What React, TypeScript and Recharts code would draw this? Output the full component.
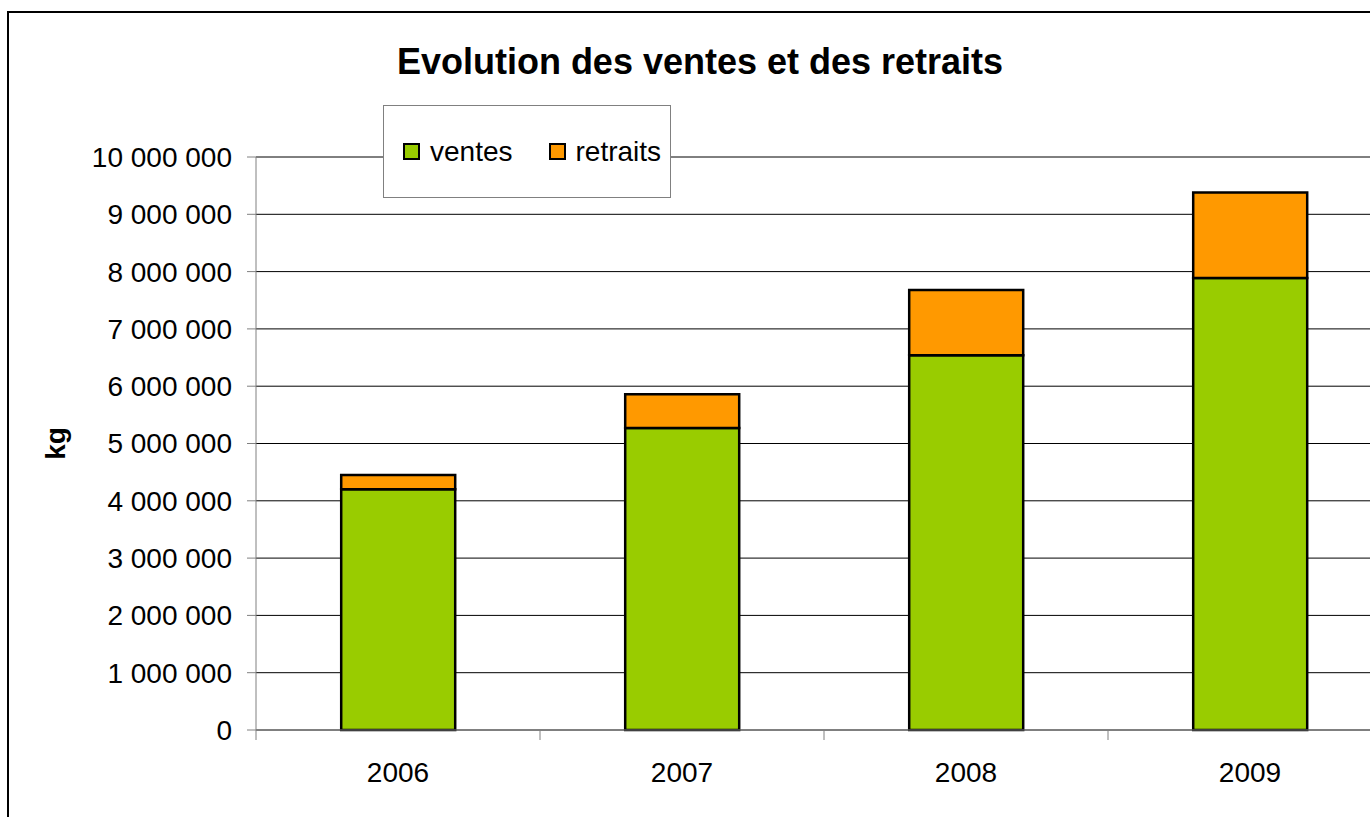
import React from 'react';
import { BarChart, Bar, XAxis, YAxis, CartesianGrid, Legend } from 'recharts';

const years = ['2006', '2007', '2008', '2009'];
const ventes = [4200000, 5270000, 6540000, 7890000];
const retraits = [250000, 590000, 1140000, 1490000];
const yTicks = [0, 1000000, 2000000, 3000000, 4000000, 5000000, 6000000, 7000000, 8000000, 9000000, 10000000];
const seriesOrder = ['ventes', 'retraits'];

const data = years.map((y, i) => ({ year: y, ventes: ventes[i], retraits: retraits[i] }));

const FONT = "'Liberation Sans', Arial, Helvetica, sans-serif";
const CHART_W = 1420;
const CHART_H = 840;
const MARGIN = { top: 157, right: 28, bottom: 0, left: 0 };
const Y_W = 256;
const X_H = 110;
const CAT_W = (CHART_W - MARGIN.right - MARGIN.left - Y_W) / years.length;

const fmt = (v: number) => String(v).replace(/\B(?=(\d{3})+(?!\d))/g, ' ');

const XTick = (props: any) => {
  const { x, y, payload, index } = props;
  const half = CAT_W / 2;
  return (
    <g>
      <line x1={x - half} x2={x - half} y1={y} y2={y + 10} stroke="#808080" strokeWidth={1} />
      {index === years.length - 1 && (
        <line x1={x + half} x2={x + half} y1={y} y2={y + 10} stroke="#808080" strokeWidth={1} />
      )}
      <text x={x} y={y + 52} textAnchor="middle" fontSize={28} fill="#000" fontFamily={FONT}>
        {payload.value}
      </text>
    </g>
  );
};

const LegendBox = (props: any) => {
  const payload = [...(props.payload || [])].sort(
    (a: any, b: any) => seriesOrder.indexOf(a.dataKey) - seriesOrder.indexOf(b.dataKey)
  );
  return (
    <div
      style={{
        boxSizing: 'border-box',
        width: 288,
        height: 93,
        border: '1px solid #808080',
        background: '#fff',
        display: 'flex',
        alignItems: 'center',
        paddingLeft: 19,
        fontFamily: FONT,
        fontSize: 28,
        color: '#000',
      }}
    >
      {payload.map((p: any, i: number) => (
        <div key={i} style={{ display: 'flex', alignItems: 'center', marginRight: 36 }}>
          <span
            style={{
              display: 'inline-block',
              boxSizing: 'border-box',
              width: 17,
              height: 17,
              border: '2px solid #000',
              background: p.color,
              marginRight: 10,
            }}
          />
          <span style={{ lineHeight: '28px' }}>{p.value}</span>
        </div>
      ))}
    </div>
  );
};

export default function App() {
  return (
    <div
      style={{
        position: 'fixed',
        left: 0,
        top: 0,
        width: 1370,
        height: 817,
        overflow: 'hidden',
        background: '#fff',
        fontFamily: FONT,
      }}
    >
      <div
        style={{
          position: 'absolute',
          left: 7,
          top: 11,
          width: 1390,
          height: 840,
          border: '2px solid #000',
          boxSizing: 'border-box',
        }}
      />
      <div
        style={{
          position: 'absolute',
          left: 0,
          top: 44,
          width: 1400,
          textAlign: 'center',
          fontSize: 36,
          lineHeight: '36px',
          fontWeight: 'bold',
          color: '#000',
        }}
      >
        Evolution des ventes et des retraits
      </div>
      <div style={{ position: 'absolute', left: 0, top: 0 }}>
        <BarChart width={CHART_W} height={CHART_H} data={data} margin={MARGIN} barCategoryGap="30%">
          <CartesianGrid horizontal vertical={false} stroke="#000" strokeWidth={1} />
          <XAxis
            dataKey="year"
            height={X_H}
            stroke="#808080"
            tickLine={false}
            tickSize={0}
            tickMargin={0}
            interval={0}
            tick={<XTick />}
          />
          <YAxis
            width={Y_W}
            domain={[0, 10000000]}
            ticks={yTicks}
            interval={0}
            stroke="#808080"
            tickSize={9}
            tickMargin={15}
            tickFormatter={fmt}
            tick={{ fill: '#000', fontSize: 28, fontFamily: FONT }}
            label={{
              value: 'kg',
              angle: -90,
              position: 'center',
              dx: -73,
              style: { fontSize: 28, fontWeight: 'bold', fill: '#000', fontFamily: FONT },
            }}
          />
          <Legend
            layout="horizontal"
            verticalAlign="middle"
            align="center"
            content={<LegendBox />}
            wrapperStyle={{ left: 383, top: 105, width: 288, height: 93 }}
          />
          <Bar dataKey="ventes" name="ventes" stackId="a" fill="#99CC00" stroke="#000" strokeWidth={2.5} isAnimationActive={false} />
          <Bar dataKey="retraits" name="retraits" stackId="a" fill="#FF9900" stroke="#000" strokeWidth={2.5} isAnimationActive={false} />
        </BarChart>
      </div>
    </div>
  );
}
